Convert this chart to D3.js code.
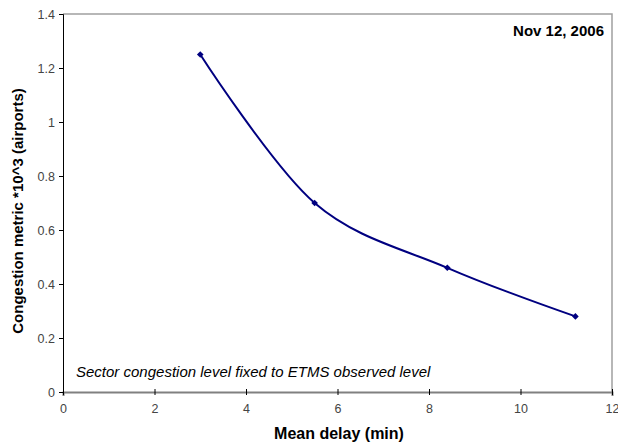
<!DOCTYPE html>
<html>
<head>
  <meta charset="utf-8">
  <script src="https://cdn.jsdelivr.net/npm/d3@7"></script>
  <style>
    body { margin: 0; background: #fff; }
    svg text { font-family: "Liberation Sans", Arial, sans-serif; }
  </style>
</head>
<body>
  <script>
    // data
    const meanDelay = [3, 5.5, 8.4, 11.2];
    const congestion = [1.25, 0.70, 0.46, 0.28];
    const xTicks = [0, 2, 4, 6, 8, 10, 12];
    const yTicks = [0, 0.2, 0.4, 0.6, 0.8, 1, 1.2, 1.4];

    const width = 618, height = 444;
    const plotLeft = 63, plotRight = 612, plotTop = 14, plotBottom = 392;

    const svg = d3.select("body").append("svg")
      .attr("width", width)
      .attr("height", height);

    const x = d3.scaleLinear().domain([0, 12]).range([plotLeft, plotRight]);
    const y = d3.scaleLinear().domain([0, 1.4]).range([plotBottom, plotTop]);

    // top and right frame
    svg.append("path")
      .attr("d", `M${plotLeft},${plotTop}H${plotRight}V${plotBottom}`)
      .attr("fill", "none")
      .attr("stroke", "#a0a0a0")
      .attr("stroke-width", 1.5);

    // x axis
    const xAxis = svg.append("g")
      .attr("transform", `translate(0,${plotBottom})`)
      .call(d3.axisBottom(x).tickValues(xTicks).tickFormat(d3.format("d")).tickSize(4).tickPadding(8));
    xAxis.select(".domain").attr("stroke", "#808080").attr("stroke-width", 2);
    xAxis.selectAll(".tick line").attr("y1", -3).attr("y2", 3).attr("stroke", "#000");
    xAxis.selectAll(".tick text").attr("font-size", 12.5).attr("fill", "#444")
      .style("font-family", "'Liberation Sans', Arial, sans-serif");

    // y axis
    const yAxis = svg.append("g")
      .attr("transform", `translate(${plotLeft},0)`)
      .call(d3.axisLeft(y).tickValues(yTicks).tickFormat(d => String(+d.toFixed(1))).tickSize(4).tickPadding(4));
    yAxis.select(".domain").attr("stroke", "#000").attr("stroke-width", 1);
    yAxis.selectAll(".tick text").attr("font-size", 12.5).attr("fill", "#444")
      .style("font-family", "'Liberation Sans', Arial, sans-serif");

    // smoothed series line
    const line = d3.line()
      .x((d, i) => x(meanDelay[i]))
      .y(d => y(d))
      .curve(d3.curveCatmullRom.alpha(0));

    svg.append("path")
      .datum(congestion)
      .attr("d", line)
      .attr("fill", "none")
      .attr("stroke", "#000080")
      .attr("stroke-width", 2);

    // diamond markers
    svg.selectAll(".marker")
      .data(congestion)
      .enter()
      .append("path")
      .attr("class", "marker")
      .attr("d", d3.symbol(d3.symbolDiamond2, 28))
      .attr("transform", (d, i) => `translate(${x(meanDelay[i])},${y(d)})`)
      .attr("fill", "#000080");

    // labels
    svg.append("text")
      .attr("x", 339)
      .attr("y", 439)
      .attr("text-anchor", "middle")
      .attr("font-size", 16)
      .attr("font-weight", "bold")
      .text("Mean delay (min)");

    svg.append("text")
      .attr("transform", "translate(23,211) rotate(-90)")
      .attr("text-anchor", "middle")
      .attr("font-size", 15)
      .attr("font-weight", "bold")
      .text("Congestion metric *10^3 (airports)");

    svg.append("text")
      .attr("x", 604)
      .attr("y", 36)
      .attr("text-anchor", "end")
      .attr("font-size", 15)
      .attr("font-weight", "bold")
      .text("Nov 12, 2006");

    svg.append("text")
      .attr("x", 76)
      .attr("y", 377)
      .attr("font-size", 15)
      .attr("font-style", "italic")
      .text("Sector congestion level fixed to ETMS observed level");
  </script>
</body>
</html>
